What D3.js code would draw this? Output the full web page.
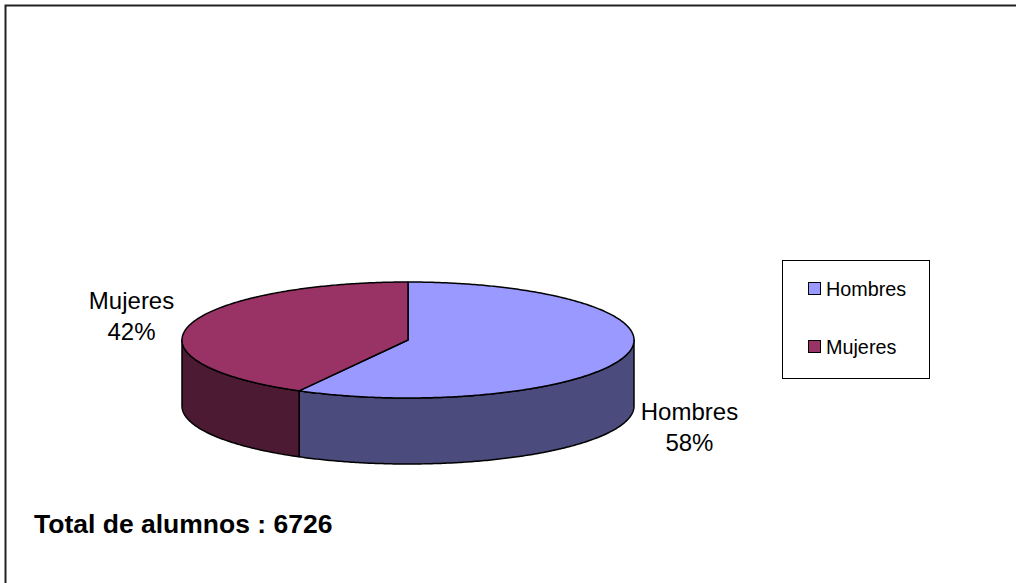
<!DOCTYPE html>
<html>
<head>
<meta charset="utf-8">
<script src="https://cdn.jsdelivr.net/npm/d3@7"></script>
<style>
  html, body { margin: 0; padding: 0; background: #fff; overflow: hidden; }
  svg { display: block; }
  text { font-family: Arial, "Liberation Sans", sans-serif; fill: #000; }
</style>
</head>
<body>
<svg id="chart" width="1017" height="583"></svg>
<script>
// ---- data ----
const categories = ["Hombres", "Mujeres"];
const shares = [58, 42];               // percent
const topColors = ["#9999FF", "#993366"];
const sideColors = ["#4B4B7D", "#4C1A33"];
const totalLabel = "Total de alumnos : 6726";

const svg = d3.select("#chart");

// outer frame: only top and left edges are inside the picture
svg.append("path")
  .attr("d", "M5.5,583 L5.5,5.5 L1016,5.5")
  .attr("fill", "none").attr("stroke", "#222").attr("stroke-width", 2);

const cx = 408, cy = 340, rx = 226, ry = 58, depth = 66;

const pie = d3.pie().sort(null).startAngle(0).endAngle(2 * Math.PI);
const arcs = pie(shares).map((d, i) => ({ ...d, i }));

const px = a => cx + rx * Math.sin(a);
const py = a => cy - ry * Math.cos(a);

function sample(a0, a1) {
  const n = Math.max(2, Math.ceil(Math.abs(a1 - a0) / 0.01));
  return d3.range(n + 1).map(k => a0 + (a1 - a0) * k / n);
}

const line = d3.line();

// sides (only the front half, angles between PI/2 and 3PI/2)
arcs.forEach(d => {
  const a0 = Math.max(d.startAngle, Math.PI / 2);
  const a1 = Math.min(d.endAngle, 3 * Math.PI / 2);
  if (a1 <= a0) return;
  const top = sample(a0, a1).map(a => [px(a), py(a)]);
  const bot = sample(a1, a0).map(a => [px(a), py(a) + depth]);
  svg.append("path")
    .attr("d", line(top.concat(bot)) + "Z")
    .attr("fill", sideColors[d.i])
    .attr("stroke", "#000").attr("stroke-width", 1.5)
    .attr("stroke-linejoin", "round");
});

// top faces
arcs.forEach(d => {
  const pts = [[cx, cy]].concat(sample(d.startAngle, d.endAngle).map(a => [px(a), py(a)]));
  svg.append("path")
    .attr("d", line(pts) + "Z")
    .attr("fill", topColors[d.i])
    .attr("stroke", "#000").attr("stroke-width", 1.5)
    .attr("stroke-linejoin", "round");
});

// data labels
const labelR = 288, labelRy = 96, lineH = 31;
arcs.forEach(d => {
  const mid = (d.startAngle + d.endAngle) / 2;
  const x = cx + labelR * Math.sin(mid) + 2.5;
  const y = cy - labelRy * Math.cos(mid) + (Math.cos(mid) < 0 ? depth - 2 : 0);
  const t = svg.append("text")
    .attr("x", x).attr("y", y)
    .attr("text-anchor", "middle")
    .style("font-size", "24px");
  t.append("tspan").attr("x", x).attr("dy", -lineH / 2 + 8).text(categories[d.i]);
  t.append("tspan").attr("x", x).attr("dy", lineH).text(d3.format(".0f")(d.data) + "%");
});

// legend
const lg = svg.append("g");
lg.append("rect")
  .attr("x", 782.5).attr("y", 260.5).attr("width", 147).attr("height", 118)
  .attr("fill", "#fff").attr("stroke", "#000").attr("stroke-width", 1);
const ly = d3.scalePoint().domain(categories).range([289, 347]);
categories.forEach((c, i) => {
  lg.append("rect")
    .attr("x", 808.5).attr("y", ly(c) - 6.5).attr("width", 12).attr("height", 12)
    .attr("fill", topColors[i]).attr("stroke", "#000").attr("stroke-width", 1);
  lg.append("text")
    .attr("x", 826).attr("y", ly(c) + 7)
    .style("font-size", "19.8px")
    .text(c);
});

// total
svg.append("text")
  .attr("x", 34).attr("y", 533)
  .style("font-size", "26.5px").style("font-weight", "bold")
  .text(totalLabel);
</script>
</body>
</html>
